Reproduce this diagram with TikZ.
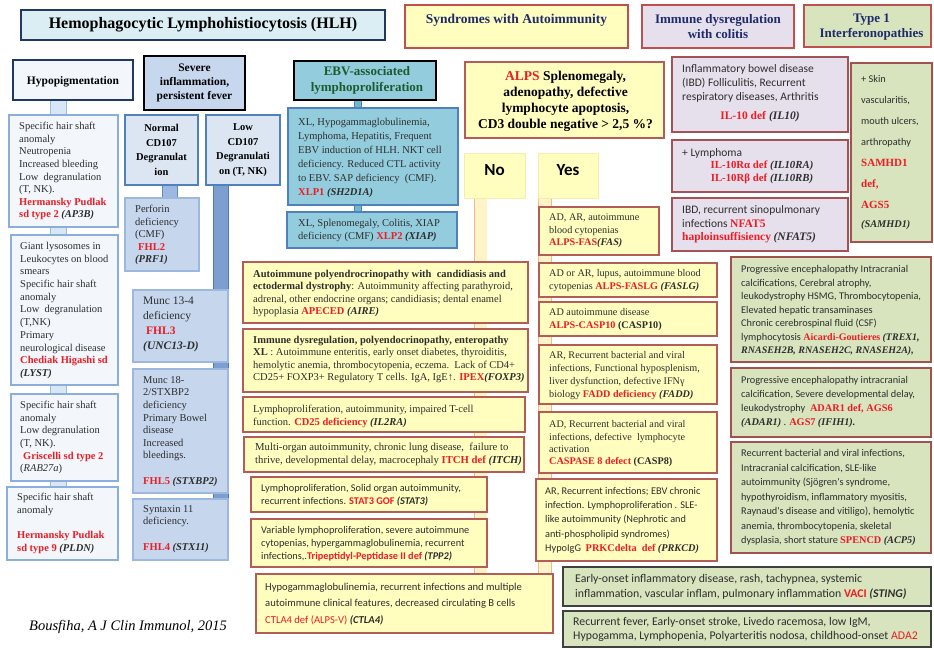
\documentclass[tikz,border=0pt]{standalone}
\usepackage{fontspec}
\setmainfont{Liberation Serif}
\newfontfamily\csans{Carlito}
\usetikzlibrary{backgrounds}
\definecolor{txt}{HTML}{2E2E2E}
\definecolor{rd}{HTML}{EE1C24}
\definecolor{navyb}{HTML}{1F3864}
\definecolor{navyt}{HTML}{1F2A6B}
\definecolor{hlhfill}{HTML}{DAEEF3}
\definecolor{hdrline}{HTML}{C0504D}
\definecolor{yel}{HTML}{FFFEBE}
\definecolor{lav}{HTML}{E6E0EC}
\definecolor{grn}{HTML}{D7E4BD}
\definecolor{hypofill}{HTML}{F3F7FB}
\definecolor{hypoline}{HTML}{8CAEDA}
\definecolor{sevfill}{HTML}{C6D7EE}
\definecolor{cdfill}{HTML}{DCE6F2}
\definecolor{blueline}{HTML}{4F81BD}
\definecolor{fhlfill}{HTML}{C5D6ED}
\definecolor{fhlline}{HTML}{9CB8DE}
\definecolor{ebvfill}{HTML}{93CDDD}
\definecolor{ebvtext}{HTML}{1D5B2E}
\definecolor{yline}{HTML}{B45C58}
\definecolor{ynline}{HTML}{F5EDB0}
\definecolor{lline}{HTML}{A35257}
\definecolor{gline}{HTML}{A0524F}
\definecolor{dline}{HTML}{404040}
\definecolor{hbandfill}{HTML}{D8E7F6}
\definecolor{hbandedge}{HTML}{9DBDE0}
\definecolor{pbandfill}{HTML}{9AB8E0}
\definecolor{pbandedge}{HTML}{6189C3}
\definecolor{lbarfill}{HTML}{7D9ED1}
\definecolor{lbaredge}{HTML}{5578B5}
\definecolor{ebandfill}{HTML}{6FB7CE}
\definecolor{ybandfill}{HTML}{FFF3C8}
\definecolor{ybandedge}{HTML}{F5B888}
\newcommand\fs[2]{\fontsize{#1}{#2}\selectfont}
\newcommand\rd[1]{\textcolor{rd}{\textbf{#1}}}
\newcommand\gi[1]{\textbf{\textit{#1}}}
\newcommand\rdr[1]{{\rmfamily\bfseries\color{rd}#1}}
\newcommand\gir[1]{{\rmfamily\bfseries\itshape #1}}
\newcommand\boxnode[6]{\node[#2,minimum width=#5pt,minimum height=#6pt] (#1) at (#3,#4) {};}
\newcommand\btext[5]{\node[bodytext,#2] (#1t) at ([shift={(#3,#4)}]#1.north west) {#5};}
\tikzset{
 boxbase/.style={anchor=north west, inner sep=0pt, outer sep=0pt},
 hlhbox/.style={boxbase, fill=hlhfill, draw=navyb, line width=2pt},
 ybox/.style={boxbase, fill=yel, draw=yline, line width=1.4pt},
 yhead/.style={boxbase, fill=yel, draw=hdrline, line width=2.2pt},
 lhead/.style={boxbase, fill=lav, draw=hdrline, line width=2.2pt},
 ghead/.style={boxbase, fill=grn, draw=hdrline, line width=2.2pt},
 hypohead/.style={boxbase, fill=hypofill, draw=navyb, line width=2.8pt},
 hypobox/.style={boxbase, fill=hypofill, draw=hypoline, line width=1.2pt},
 sevhead/.style={boxbase, fill=sevfill, draw=black, line width=2.8pt},
 cdbox/.style={boxbase, fill=cdfill, draw=blueline, line width=1.8pt},
 fhlbox/.style={boxbase, fill=fhlfill, draw=fhlline, line width=1.2pt},
 ebvhead/.style={boxbase, fill=ebvfill, draw=black, line width=2.8pt},
 ebvbox/.style={boxbase, fill=ebvfill, draw=blueline, line width=1.4pt},
 ynbox/.style={boxbase, fill=yel, draw=ynline, line width=0.8pt},
 lbox/.style={boxbase, fill=lav, draw=lline, line width=1.4pt},
 gbox/.style={boxbase, fill=grn, draw=gline, line width=1.4pt},
 dbox/.style={boxbase, fill=grn, draw=dline, line width=1.8pt},
 bodytext/.style={anchor=north west, inner sep=0pt, align=left, text=txt},
 ctext/.style={anchor=center, inner sep=0pt, align=center},
 hband/.style={draw=hbandedge, line width=0.8pt, double=hbandfill, double distance=15pt},
 pband/.style={draw=pbandedge, line width=0.8pt, double=pbandfill, double distance=14pt},
 lbar/.style={draw=lbaredge, line width=0.8pt, double=lbarfill, double distance=14.5pt},
 eband/.style={draw=blueline, line width=0.8pt, double=ebandfill, double distance=6.5pt},
 yband/.style={draw=ybandedge, line width=0.9pt, double=ybandfill, double distance=12pt},
}
\begin{document}
\begin{tikzpicture}[x=1pt,y=-1pt]
\useasboundingbox (0,0) rectangle (934,650);

% ---------- headers ----------
\boxnode{hlh}{hlhbox}{21}{10}{364}{30}
\node[ctext, font=\fs{16}{18}\bfseries, text=black] (hlht) at (hlh.center) {Hemophagocytic Lymphohistiocytosis (HLH)};
\boxnode{syn}{yhead}{405}{5}{223}{43}
\node[ctext, font=\fs{13.5}{16}\bfseries, text=navyt] (synt) at ([shift={(0,15)}]syn.north) {Syndromes with Autoimmunity};
\boxnode{imm}{lhead}{642}{5}{152}{43}
\node[ctext, font=\fs{13}{15.5}\bfseries, text=navyt] (immt) at (imm.center) {Immune dysregulation\\with colitis};
\boxnode{ifn}{ghead}{804}{5}{127}{42}
\node[ctext, font=\fs{13}{15.5}\bfseries, text=navyt] (ifnt) at ([shift={(4,1)}]ifn.center) {Type 1\\Interferonopathies};

% ---------- hypopigmentation ----------
\boxnode{hypo}{hypohead}{13}{60}{120}{40}
\node[ctext, font=\fs{11.5}{14}\bfseries, text=black] (hypot) at ([shift={(0,2)}]hypo.center) {Hypopigmentation};
\boxnode{hp1}{hypobox}{9}{115}{109}{112}
\btext{hp1}{font=\fs{10.5}{12.6}}{10}{7.2}{Specific hair shaft\\anomaly\\Neutropenia\\Increased bleeding\\Low\ \ degranulation\\(T, NK).\\\rd{Hermansky Pudlak}\\\rd{sd type 2} \gi{(AP3B)}}
\boxnode{hp2}{hypobox}{11}{235}{107}{150}
\btext{hp2}{font=\fs{10.5}{12.7}}{9}{7}{Giant lysosomes in\\Leukocytes on blood\\smears\\Specific hair shaft\\anomaly\\Low\ \ degranulation\\(T,NK)\\Primary\\neurological disease\\\rd{Chediak Higashi sd}\\\gi{(LYST)}}
\boxnode{hp3}{hypobox}{11}{394}{107}{87}
\btext{hp3}{font=\fs{10.5}{12.6}}{9}{7.2}{Specific hair shaft\\anomaly\\Low degranulation\\(T, NK).\\\hspace*{3pt}\rd{Griscelli sd type 2}\\(\textit{RAB27a})}
\boxnode{hp4}{hypobox}{7}{487}{111}{73}
\btext{hp4}{font=\fs{10.5}{12.6}}{10}{6.2}{Specific hair shaft\\anomaly\\[12.6pt]\rd{Hermansky Pudlak}\\\rd{sd type 9} \gi{(PLDN)}}

% ---------- severe inflammation ----------
\boxnode{sev}{sevhead}{144}{56}{101}{54}
\node[ctext, font=\fs{11.5}{14}\bfseries, text=black] (sevt) at (sev.center) {Severe\\inflammation,\\persistent fever};
\boxnode{ncd}{cdbox}{125}{115}{73}{70}
\node[ctext, font=\fs{10.5}{14.5}\bfseries, text=black] (ncdt) at (ncd.center) {Normal\\CD107\\Degranulat\\ion};
\boxnode{lcd}{cdbox}{206}{115}{74}{70}
\node[ctext, font=\fs{10.5}{14.5}\bfseries, text=black] (lcdt) at (lcd.center) {Low\\CD107\\Degranulati\\on (T, NK)};
\boxnode{prf}{fhlbox}{125}{198}{74}{73}
\btext{prf}{font=\fs{10.5}{12.5}}{10}{7.2}{Perforin\\deficiency\\(CMF)\\\hspace*{3pt}\rd{FHL2}\\\gi{(PRF1)}}
\boxnode{unc}{fhlbox}{133}{290}{95}{72}
\btext{unc}{font=\fs{11.5}{15}}{10}{6.7}{Munc 13-4\\deficiency\\\hspace*{3pt}\rd{FHL3}\\\gi{(UNC13-D)}}
\boxnode{stxb}{fhlbox}{133}{369}{95}{124}
\btext{stxb}{font=\fs{10.5}{12.6}}{10}{7.2}{Munc 18-\\2/STXBP2\\deficiency\\Primary Bowel\\disease\\Increased\\bleedings.\\[12.6pt]\rd{FHL5} \gi{(STXBP2)}}
\boxnode{stx}{fhlbox}{133}{499}{95}{61}
\btext{stx}{font=\fs{10.5}{12.6}}{10}{6.2}{Syntaxin 11\\deficiency.\\[12.6pt]\rd{FHL4} \gi{(STX11)}}

% ---------- EBV ----------
\boxnode{ebv}{ebvhead}{294}{61}{142}{39}
\node[ctext, font=\fs{13}{16}\bfseries, text=ebvtext] (ebvt) at ([shift={(2,0)}]ebv.center) {EBV-associated\\lymphoproliferation};
\boxnode{xlp1}{ebvbox}{288}{108}{170}{97}
\btext{xlp1}{font=\fs{10.5}{14}}{10}{10}{XL, Hypogammaglobulinemia,\\Lymphoma, Hepatitis, Frequent\\EBV induction of HLH. NKT cell\\deficiency. Reduced CTL activity\\to EBV. SAP deficiency\ \ (CMF).\\\rd{XLP1} \gi{(SH2D1A)}}
\boxnode{xlp2}{ebvbox}{287}{212}{170}{36}
\btext{xlp2}{font=\fs{10.5}{13}}{11}{7}{XL, Splenomegaly, Colitis, XIAP\\deficiency (CMF) \rd{XLP2} \gi{(XIAP)}}

% ---------- ALPS ----------
\boxnode{alps}{ybox}{465}{62}{199}{76}
\node[ctext, font=\fs{13.5}{16}\bfseries, text=black] (alpst) at ([shift={(1,1)}]alps.center) {\textcolor{rd}{ALPS} Splenomegaly,\\adenopathy, defective\\lymphocyte apoptosis,\\CD3 double negative > 2,5 \%?};
\boxnode{no}{ynbox}{464}{153}{61}{45}
\node[ctext, font=\csans\fs{17}{20}\bfseries, text=black] (nolabel) at ([shift={(0,-5)}]no.center) {No};
\boxnode{yes}{ynbox}{538}{153}{60}{45}
\node[ctext, font=\csans\fs{17}{20}\bfseries, text=black] (yeslabel) at ([shift={(0,-5)}]yes.center) {Yes};

% ---------- No branch ----------
\boxnode{apeced}{ybox}{243}{262}{285}{61}
\btext{apeced}{font=\fs{10.5}{12.3}}{10}{8.2}{\textbf{Autoimmune polyendrocrinopathy with\ \ candidiasis and}\\\textbf{ectodermal dystrophy}: Autoimmunity affecting parathyroid,\\adrenal, other endocrine organs; candidiasis; dental enamel\\hypoplasia \rd{APECED} \gi{(AIRE)}}
\boxnode{ipex}{ybox}{243}{329}{285}{63}
\btext{ipex}{font=\fs{10.5}{12.3}}{10}{7.2}{\textbf{Immune dysregulation, polyendocrinopathy, enteropathy}\\\textbf{XL} : Autoimmune enteritis, early onset diabetes, thyroiditis,\\hemolytic anemia, thrombocytopenia, eczema.\ \ Lack of CD4+\\CD25+ FOXP3+ Regulatory T cells. IgA, IgE↑. \rd{IPEX}\gi{(FOXP3)}}
\boxnode{cd25}{ybox}{243}{397}{282}{35}
\btext{cd25}{font=\fs{10.5}{12.5}}{10}{8}{Lymphoproliferation, autoimmunity, impaired T-cell\\function. \rd{CD25 deficiency} \gi{(IL2RA)}}
\boxnode{itch}{ybox}{244}{437}{280}{35}
\btext{itch}{font=\fs{10.7}{13}}{11}{6.2}{Multi-organ autoimmunity, chronic lung disease,\ \ failure to\\thrive, developmental delay, macrocephaly \rd{ITCH def} \gi{(ITCH)}}
\boxnode{stat3}{ybox}{251}{477}{236}{35}
\btext{stat3}{font=\csans\fs{10.3}{12.8}}{10}{7.2}{Lymphoproliferation, Solid organ autoimmunity,\\recurrent infections. \rd{STAT3 GOF} \gi{(STAT3)}}
\boxnode{tpp2}{ybox}{251}{519}{236}{48}
\btext{tpp2}{font=\csans\fs{10.3}{13}}{10}{7.2}{Variable lymphoproliferation, severe autoimmune\\cytopenias, hypergammaglobulinemia, recurrent\\infections,.\rd{Tripeptidyl-Peptidase II def} \gi{(TPP2)}}
\boxnode{ctla4}{ybox}{256}{574}{297}{59}
\btext{ctla4}{font=\csans\fs{10.6}{16.3}}{9}{9}{Hypogammaglobulinemia, recurrent infections and multiple\\autoimmune clinical features, decreased circulating B cells\\\textcolor{rd}{CTLA4 def (ALPS-V)} \gi{(CTLA4)}}

% ---------- Yes branch ----------
\boxnode{fas}{ybox}{539}{207}{120}{48}
\btext{fas}{font=\fs{10.2}{12.5}}{10}{7}{AD, AR, autoimmune\\blood cytopenias\\\rd{ALPS-FAS}\gi{(FAS)}}
\boxnode{faslg}{ybox}{539}{263}{178}{34}
\btext{faslg}{font=\fs{10.2}{13}}{10}{6.5}{AD or AR, lupus, autoimmune blood\\cytopenias \rd{ALPS-FASLG} \gi{(FASLG)}}
\boxnode{casp10}{ybox}{539}{302}{178}{34}
\btext{casp10}{font=\fs{10.2}{13}}{10}{6.5}{AD autoimmune disease\\\rd{ALPS-CASP10} \textbf{(CASP10)}}
\boxnode{fadd}{ybox}{539}{345}{178}{59}
\btext{fadd}{font=\fs{10.2}{13}}{10}{6.5}{AR, Recurrent bacterial and viral\\infections, Functional hyposplenism,\\liver dysfunction, defective IFNγ\\biology \rd{FADD deficiency} \gi{(FADD)}}
\boxnode{casp8}{ybox}{539}{412}{178}{61}
\btext{casp8}{font=\fs{10.2}{12.3}}{10}{8.5}{AD, Recurrent bacterial and viral\\infections, defective\ \ lymphocyte\\activation\\\rd{CASPASE 8 defect} \textbf{(CASP8)}}
\boxnode{prkcd}{ybox}{536}{479}{181}{82}
\btext{prkcd}{font=\csans\fs{10.3}{14.2}}{9}{8.2}{AR, Recurrent infections; EBV chronic\\infection. Lymphoproliferation . SLE-\\like autoimmunity (Nephrotic and\\anti-phospholipid syndromes)\\HypoIgG\ \ \rdr{PRKCdelta\ \ def} \gir{(PRKCD)}}

% ---------- colitis ----------
\boxnode{il10}{lbox}{672}{57}{176}{75}
\btext{il10}{font=\csans\fs{11.5}{14}}{10}{7.6}{Inflammatory bowel disease\\(IBD) Folliculitis, Recurrent\\respiratory diseases, Arthritis}
\node[ctext, font=\fs{11.5}{14}, text=txt] (il10d) at ([shift={(0,60)}]il10.north) {\rd{IL-10 def} \gi{(IL10)}};
\boxnode{il10r}{lbox}{672}{140}{176}{52}
\btext{il10r}{font=\csans\fs{11.5}{14}}{10}{8.6}{+ Lymphoma}
\node[ctext, font=\fs{10.8}{13}, text=txt] (il10rd) at ([shift={(2,32.5)}]il10r.north) {\rd{IL-10Rα def} \gi{(IL10RA)}\\\rd{IL-10Rβ def} \gi{(IL10RB)}};
\boxnode{nfat}{lbox}{672}{198}{176}{53}
\btext{nfat}{font=\csans\fs{11.5}{13.5}}{10}{7.6}{IBD, recurrent sinopulmonary\\infections \rdr{NFAT5}\\\rdr{haploinsuffisiency} \gir{(NFAT5)}}

% ---------- interferonopathies ----------
\boxnode{samhd}{gbox}{851}{63}{81}{179}
\btext{samhd}{font=\csans\fs{10.3}{21}}{10}{12}{+ Skin\\vascularitis,\\mouth ulcers,\\arthropathy\\\rdr{\fs{11}{13}SAMHD1}\\\rdr{\fs{11}{13}def,}\\\rdr{\fs{11}{13}AGS5}\\[-2pt]\gir{(SAMHD1)}}
\boxnode{ags}{gbox}{731}{257}{200}{105}
\btext{ags}{font=\csans\fs{10.3}{13.5}}{10}{8.2}{Progressive encephalopathy Intracranial\\calcifications, Cerebral atrophy,\\leukodystrophy HSMG, Thrombocytopenia,\\Elevated hepatic transaminases\\Chronic cerebrospinal fluid (CSF)\\lymphocytosis \rdr{\fs{10}{13}Aicardi-Goutieres} \gir{\fs{10}{13}(TREX1,}\\\gir{\fs{10}{13}RNASEH2B, RNASEH2C, RNASEH2A),}}
\boxnode{adar}{gbox}{731}{368}{200}{69}
\btext{adar}{font=\csans\fs{10.3}{14}}{10}{8.2}{Progressive encephalopathy intracranial\\calcification, Severe developmental delay,\\leukodystrophy\ \ \rdr{ADAR1 def, AGS6}\\\gir{(ADAR1)} . \rdr{AGS7} \gir{(IFIH1).}}
\boxnode{spencd}{gbox}{731}{442}{200}{111}
\btext{spencd}{font=\csans\fs{10.3}{14.5}}{10}{7.2}{Recurrent bacterial and viral infections,\\Intracranial calcification, SLE-like\\autoimmunity (Sjögren's syndrome,\\hypothyroidism, inflammatory myositis,\\Raynaud's disease and vitiligo), hemolytic\\anemia, thrombocytopenia, skeletal\\dysplasia, short stature \rdr{SPENCD} \gir{(ACP5)}}
\boxnode{vaci}{dbox}{563}{567}{368}{39}
\btext{vaci}{font=\csans\fs{11.8}{15}}{12}{7.5}{Early-onset inflammatory disease, rash, tachypnea, systemic\\inflammation, vascular inflam, pulmonary inflammation \rd{VACI} \gi{(STING)}}
\boxnode{ada2}{dbox}{563}{611}{368}{36}
\btext{ada2}{font=\csans\fs{11.8}{14}}{10}{6.5}{Recurrent fever, Early-onset stroke, Livedo racemosa, low IgM,\\Hypogamma, Lymphopenia, Polyarteritis nodosa, childhood-onset \textcolor{rd}{ADA2}}

% ---------- citation ----------
\node[anchor=west, inner sep=0pt, font=\fs{14.5}{16}\itshape, text=black] (cite) at (29,627) {Bousfiha, A J Clin Immunol, 2015};

% ---------- connectors ----------
\begin{scope}[on background layer]
\coordinate (hx) at (58.5,0);
\draw[hband] (hx |- hypo.south) -- (hx |- hp1.north);
\draw[hband] (hx |- hp1.south) -- (hx |- hp2.north);
\draw[hband] (hx |- hp2.south) -- (hx |- hp3.north);
\draw[hband] (hx |- hp3.south) -- (hx |- hp4.north);
\coordinate (px) at (170,0);
\draw[pband] (px |- ncd.south) -- (px |- prf.north);
\coordinate (lx) at (221,0);
\draw[lbar] (lx |- lcd.south) -- ([shift={(0,3)}]lx |- stx.north);
\coordinate (ex) at (358,0);
\draw[eband] (ex |- ebv.south) -- (ex |- xlp1.north);
\draw[eband] (ex |- xlp1.south) -- (ex |- xlp2.north);
\coordinate (nx) at (480.5,0);
\draw[yband] (nx |- no.south) -- (nx |- ctla4.north);
\coordinate (yx) at (545,0);
\draw[yband] (yx |- yes.south) -- (yx |- ctla4.north);
\end{scope}
\end{tikzpicture}
\end{document}
